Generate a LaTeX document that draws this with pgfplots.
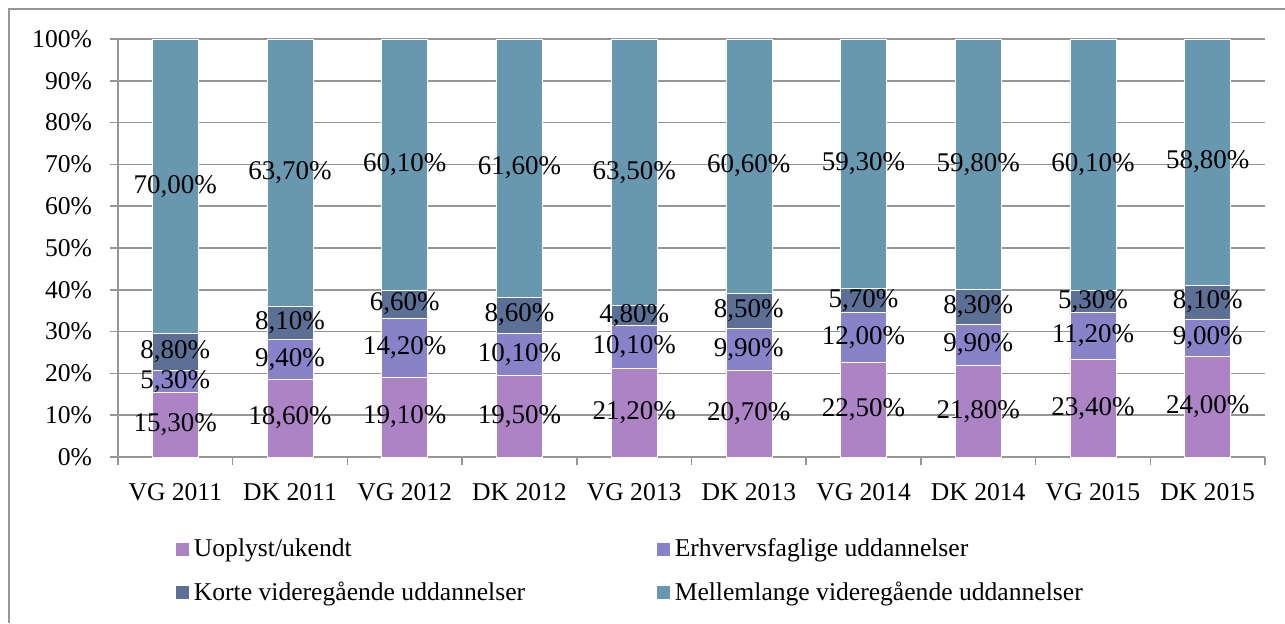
\documentclass[border=0pt]{standalone}
\usepackage{fontspec}
\setmainfont{Liberation Serif}
\usepackage{pgfplots}
\usepackage{pgfplotstable}
\pgfplotsset{compat=1.18}
\pgfplotsset{/pgf/number format/assume math mode=true}
\definecolor{cU}{RGB}{172,132,198}
\definecolor{cE}{RGB}{136,130,200}
\definecolor{cK}{RGB}{92,112,150}
\definecolor{cM}{RGB}{104,151,176}
\definecolor{gridc}{RGB}{150,150,150}
\pgfplotstableread{
x u e k m
0 15.3 5.3 8.8 70.0
1 18.6 9.4 8.1 63.7
2 19.1 14.2 6.6 60.1
3 19.5 10.1 8.6 61.6
4 21.2 10.1 4.8 63.5
5 20.7 9.9 8.5 60.6
6 22.5 12.0 5.7 59.3
7 21.8 9.9 8.3 59.8
8 23.4 11.2 5.3 60.1
9 24.0 9.0 8.1 58.8
}\datatable
\newcommand{\tot}{(\thisrow{u}+\thisrow{e}+\thisrow{k}+\thisrow{m})}
\pgfplotsset{
  base/.style={
    scale only axis, width=573.5pt, height=209pt,
    at={(59pt,-228.5pt)}, anchor=south west,
    xmin=-0.5, xmax=9.5, ymin=0, ymax=100,
  },
  legsq/.style={legend image code/.code={\fill[##1] (0pt,-3.5pt) rectangle (7pt,3.5pt);}},
  lab/.style={draw=none, mark=none, nodes near coords align=center,
    nodes near coords={\pgfmathprintnumber[fixed,fixed zerofill,precision=2,use comma]{\pgfplotspointmeta}\%},
    every node near coord/.append style={font=\fontsize{13.5pt}{16pt}\selectfont, anchor=center, text=black, inner sep=0pt}},
}
\begin{document}
\begin{tikzpicture}
\path[use as bounding box] (0,0) rectangle (642.5pt,-311.5pt);
\draw[gridc, line width=1pt] (4.5pt,-311.5pt) -- (4.5pt,-4.5pt) -- (642.5pt,-4.5pt);
\begin{axis}[base, ybar stacked, bar width=23pt,
  axis x line*=bottom, axis y line*=left,
  axis line style={gridc, line width=0.75pt},
  tick align=outside, major tick length=4pt,
  tick style={gridc, line width=0.75pt},
  ymajorgrids, grid style={gridc, line width=0.75pt},
  ytick={0,10,...,100},
  yticklabel={\pgfmathprintnumber{\tick}\%},
  yticklabel style={xshift=-5.5pt},
  xtick={-0.5,0.5,...,9.5},
  x tick label as interval,
  xticklabels={VG 2011,DK 2011,VG 2012,DK 2012,VG 2013,DK 2013,VG 2014,DK 2014,VG 2015,DK 2015,},
  xticklabel style={yshift=-5.5pt},
  tick label style={font=\fontsize{12.8pt}{15pt}\selectfont, text=black},
  legend columns=2,
  legend cell align=left,
  legend style={at={(0.0444,-0.175)}, anchor=north west, draw=none, fill=none,
    font=\fontsize{12.8pt}{15pt}\selectfont,
    /tikz/every even column/.append style={column sep=63.5pt},
    row sep=7pt},
]
\addplot[fill=cU, draw=white, line width=0.3pt, legsq] table[x=x, y expr=100*\thisrow{u}/\tot]{\datatable};
\addplot[fill=cE, draw=white, line width=0.3pt, legsq] table[x=x, y expr=100*\thisrow{e}/\tot]{\datatable};
\addplot[fill=cK, draw=white, line width=0.3pt, legsq] table[x=x, y expr=100*\thisrow{k}/\tot]{\datatable};
\addplot[fill=cM, draw=white, line width=0.3pt, legsq] table[x=x, y expr=100*\thisrow{m}/\tot]{\datatable};
\legend{Uoplyst/ukendt, Erhvervsfaglige uddannelser, Korte videregående uddannelser, Mellemlange videregående uddannelser}
\end{axis}
\begin{axis}[base, hide axis]
\addplot[lab, point meta=\thisrow{u}] table[x=x, y expr=50*\thisrow{u}/\tot]{\datatable};
\addplot[lab, point meta=\thisrow{e}] table[x=x, y expr=100*(\thisrow{u}+0.5*\thisrow{e})/\tot]{\datatable};
\addplot[lab, point meta=\thisrow{k}] table[x=x, y expr=100*(\thisrow{u}+\thisrow{e}+0.5*\thisrow{k})/\tot]{\datatable};
\addplot[lab, point meta=\thisrow{m}] table[x=x, y expr=100*(\thisrow{u}+\thisrow{e}+\thisrow{k}+0.5*\thisrow{m})/\tot]{\datatable};
\end{axis}
\end{tikzpicture}
\end{document}
